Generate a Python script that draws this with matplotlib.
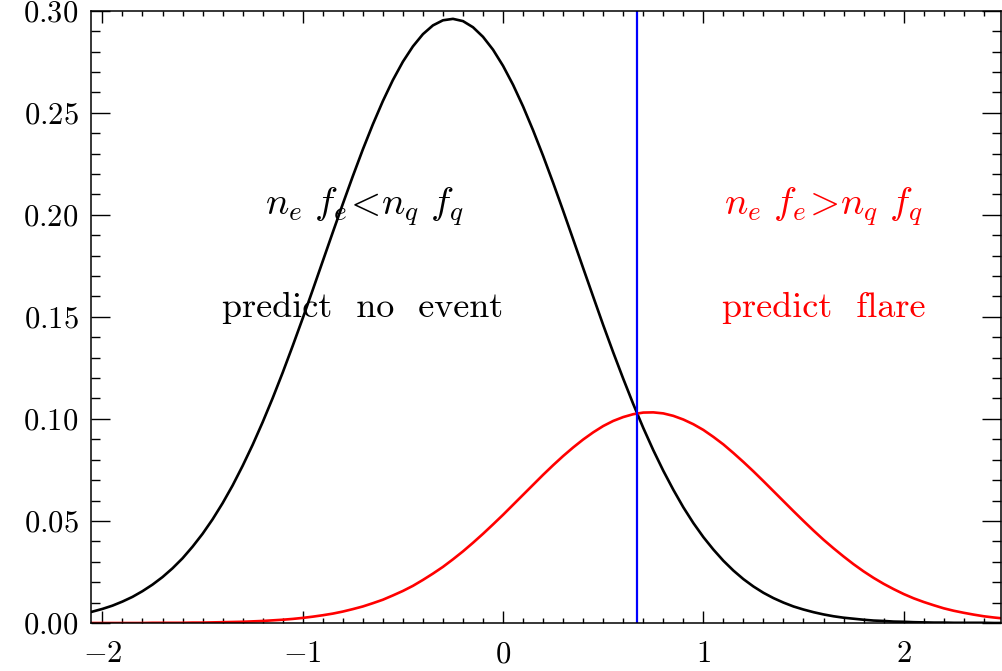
import numpy as np
import matplotlib
matplotlib.use("Agg")
import matplotlib.pyplot as plt
from matplotlib.ticker import MultipleLocator, FuncFormatter

plt.rcParams['mathtext.fontset'] = 'cm'
plt.rcParams['font.family'] = ['cmr10', 'DejaVu Serif']

# sample positions: left edge, then every 0.05 from -2 to 2.5
x = np.concatenate([[-2.06], np.round(np.arange(-2.0, 2.501, 0.05), 2)])

# quiet (no event) population, n_q f_q
quiet = [0.0053,
         0.0069, 0.0085, 0.0105, 0.0128, 0.0156, 0.0188, 0.0225, 0.0268,
         0.0317, 0.0374, 0.0437, 0.0508, 0.0587, 0.0674, 0.0770, 0.0873,
         0.0984, 0.1102, 0.1227, 0.1358, 0.1493, 0.1632, 0.1773, 0.1914,
         0.2053, 0.2189, 0.2320, 0.2443, 0.2557, 0.2660, 0.2750, 0.2825,
         0.2885, 0.2928, 0.2953, 0.2960, 0.2949, 0.2919, 0.2872, 0.2809,
         0.2730, 0.2637, 0.2531, 0.2414, 0.2289, 0.2157, 0.2020, 0.1880,
         0.1739, 0.1599, 0.1460, 0.1326, 0.1197, 0.1073, 0.0956, 0.0847,
         0.0746, 0.0653, 0.0567, 0.0490, 0.0421, 0.0360, 0.0305, 0.0257,
         0.0215, 0.0179, 0.0148, 0.0122, 0.0100, 0.0081, 0.0066, 0.0053,
         0.0042, 0.0033, 0.0026, 0.0021, 0.0016, 0.0012, 0.0010, 0.0007,
         0.0006, 0.0004, 0.0003, 0.0002, 0.0002, 0.0001, 0.0001, 0.0001,
         0.0001, 0.0000, 0.0000]

# flaring population, n_e f_e
flare = [0.0000,
         0.0000, 0.0000, 0.0000, 0.0000, 0.0000, 0.0001, 0.0001, 0.0001,
         0.0001, 0.0002, 0.0002, 0.0003, 0.0004, 0.0005, 0.0006, 0.0008,
         0.0010, 0.0013, 0.0016, 0.0020, 0.0025, 0.0031, 0.0038, 0.0046,
         0.0056, 0.0068, 0.0081, 0.0097, 0.0114, 0.0135, 0.0157, 0.0182,
         0.0211, 0.0242, 0.0275, 0.0312, 0.0351, 0.0393, 0.0437, 0.0483,
         0.0530, 0.0579, 0.0628, 0.0677, 0.0726, 0.0773, 0.0818, 0.0860,
         0.0899, 0.0934, 0.0965, 0.0990, 0.1009, 0.1023, 0.1031, 0.1032,
         0.1027, 0.1015, 0.0997, 0.0974, 0.0946, 0.0912, 0.0875, 0.0833,
         0.0789, 0.0743, 0.0695, 0.0646, 0.0597, 0.0548, 0.0500, 0.0453,
         0.0408, 0.0366, 0.0326, 0.0288, 0.0253, 0.0221, 0.0192, 0.0166,
         0.0142, 0.0121, 0.0103, 0.0087, 0.0072, 0.0060, 0.0050, 0.0041,
         0.0033, 0.0027, 0.0022]

threshold = 0.669

fig = plt.figure(figsize=(10.02, 6.71), dpi=100)
ax = fig.add_axes([91/1002, 48/671, 910/1002, 612.3/671])

ax.plot(x, quiet, color='black', lw=1.9)
ax.plot(x, flare, color='red', lw=1.9)
ax.axvline(threshold, color='blue', lw=1.6)

ax.set_xlim(-2.057, 2.486)
ax.set_ylim(0, 0.30)

ax.xaxis.set_major_locator(MultipleLocator(1))
ax.xaxis.set_minor_locator(MultipleLocator(0.1))
ax.yaxis.set_major_locator(MultipleLocator(0.05))
ax.yaxis.set_minor_locator(MultipleLocator(0.01))
ax.xaxis.set_major_formatter(FuncFormatter(lambda v, p: r'$%d$' % round(v)))
ax.yaxis.set_major_formatter(FuncFormatter(lambda v, p: r'$%.2f$' % v))

ax.tick_params(which='both', direction='in', top=True, right=True,
               width=1.0, labelsize=22, colors='black')
ax.tick_params(axis='x', which='major', length=8.6, pad=13)
ax.tick_params(axis='x', which='minor', length=3.6)
ax.tick_params(axis='y', which='major', length=13.7, pad=9)
ax.tick_params(axis='y', which='minor', length=6.5)
for s in ax.spines.values():
    s.set_linewidth(1.1)

fig.canvas.draw()
ylabels = ax.get_yticklabels()
ylabels[0].set_va('baseline')
ylabels[-1].set_va('top')

# decision regions either side of the threshold
ax.text(-0.69, 0.20, r'$n_e\ f_e\!<\!n_q\ f_q$', fontsize=28,
        ha='center', va='baseline', color='black')
ax.text(-0.7, 0.15, 'predict  no  event', fontsize=26, family='cmr10',
        ha='center', va='baseline', color='black')
ax.text(1.6, 0.20, r'$n_e\ f_e\!>\!n_q\ f_q$', fontsize=28,
        ha='center', va='baseline', color='red')
ax.text(1.6, 0.15, 'predict  flare', fontsize=26, family='cmr10',
        ha='center', va='baseline', color='red')

fig.savefig('out.png', dpi=100)
